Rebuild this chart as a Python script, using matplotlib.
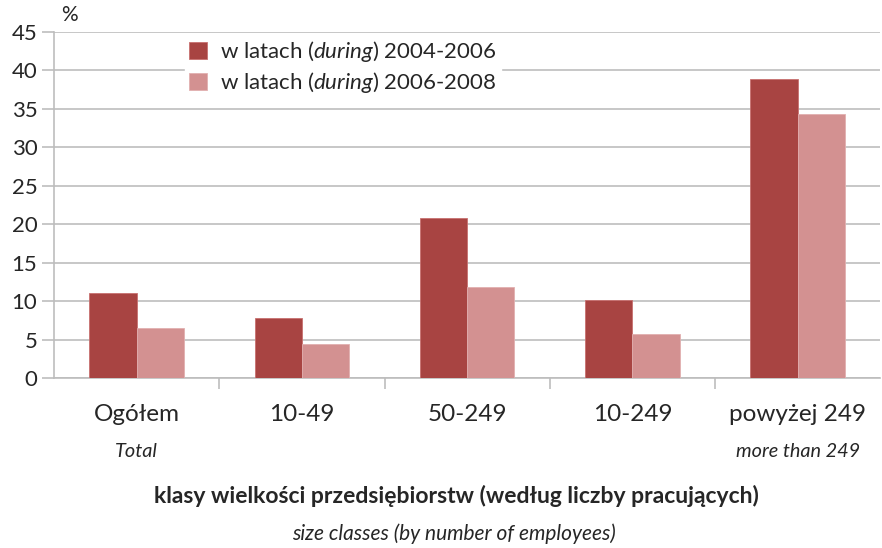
import numpy as np
from matplotlib import pyplot as plt

plt.rcParams['font.family'] = ['Lato', 'DejaVu Sans']
plt.rcParams['mathtext.fontset'] = 'custom'
plt.rcParams['mathtext.rm'] = 'Lato'
plt.rcParams['mathtext.it'] = 'Lato:italic'

categories = ['Ogółem', '10-49', '50-249', '10-249', 'powyżej 249']
categories_en = ['Total', '', '', '', 'more than 249']
series_names = ['w latach $\\it{(during)}$ 2004-2006', 'w latach $\\it{(during)}$ 2006-2008']
values_0406 = [11.1, 7.8, 20.8, 10.1, 38.9]
values_0608 = [6.5, 4.4, 11.8, 5.7, 34.4]

dark = '#A84442'
light = '#D39191'
txt = '#262626'
grid_c = '#BDBDBD'

fig = plt.figure(figsize=(8.82, 5.48), dpi=100)
ax = fig.add_axes([0.0612, 0.3102, 0.937, 0.6314])

x = np.arange(len(categories))
w = 0.286
ax.bar(x - w / 2, values_0406, w, color=dark, edgecolor='#C87070', linewidth=0.6, label=series_names[0], zorder=3)
ax.bar(x + w / 2, values_0608, w, color=light, edgecolor='#E2B0B0', linewidth=0.6, label=series_names[1], zorder=3)

ax.set_xlim(-0.5, len(categories) - 0.5)
ax.set_ylim(0, 45)
ax.set_yticks(np.arange(0, 46, 5))
ax.yaxis.grid(True, color=grid_c, linewidth=1.2, zorder=0)
ax.set_axisbelow(True)
for s in ['top', 'right']:
    ax.spines[s].set_visible(False)
ax.spines['left'].set_color(grid_c)
ax.spines['bottom'].set_color(grid_c)
ax.spines['left'].set_linewidth(1.2)
ax.spines['bottom'].set_linewidth(1.2)
ax.tick_params(axis='y', colors=grid_c, length=9, width=1.2, labelcolor=txt, labelsize=16, pad=3)

# category separators
ax.set_xticks(np.arange(0.5, len(categories) - 0.5, 1))
ax.set_xticklabels([])
ax.tick_params(axis='x', colors=grid_c, length=8, width=1.2)

for i, (c, ce) in enumerate(zip(categories, categories_en)):
    ax.text(i, -4.8, c, ha='center', va='center', fontsize=17.5, color=txt)
    if ce:
        ax.text(i, -9.6, ce, ha='center', va='center', fontsize=14.3, style='italic', color=txt)

fig.text(0.518, 0.095, 'klasy wielkości przedsiębiorstw (według liczby pracujących)', ha='center', va='center',
         fontsize=16.5, fontweight='bold', color=txt)
fig.text(0.515, 0.027, 'size classes (by number of employees)', ha='center', va='center',
         fontsize=15, style='italic', color=txt)
fig.text(0.079, 0.972, '%', ha='center', va='center', fontsize=15, color=txt)

leg = ax.legend(loc='upper left', bbox_to_anchor=(0.15, 1.012), frameon=True, fontsize=16,
                handlelength=0.8, handleheight=0.8, handletextpad=0.6, labelspacing=0.28,
                borderpad=0.2, borderaxespad=0.3, labelcolor=txt)
leg.get_frame().set_facecolor('white')
leg.get_frame().set_edgecolor('white')
leg.get_frame().set_alpha(1.0)
leg.set_zorder(5)

plt.savefig('out.png', dpi=100)
